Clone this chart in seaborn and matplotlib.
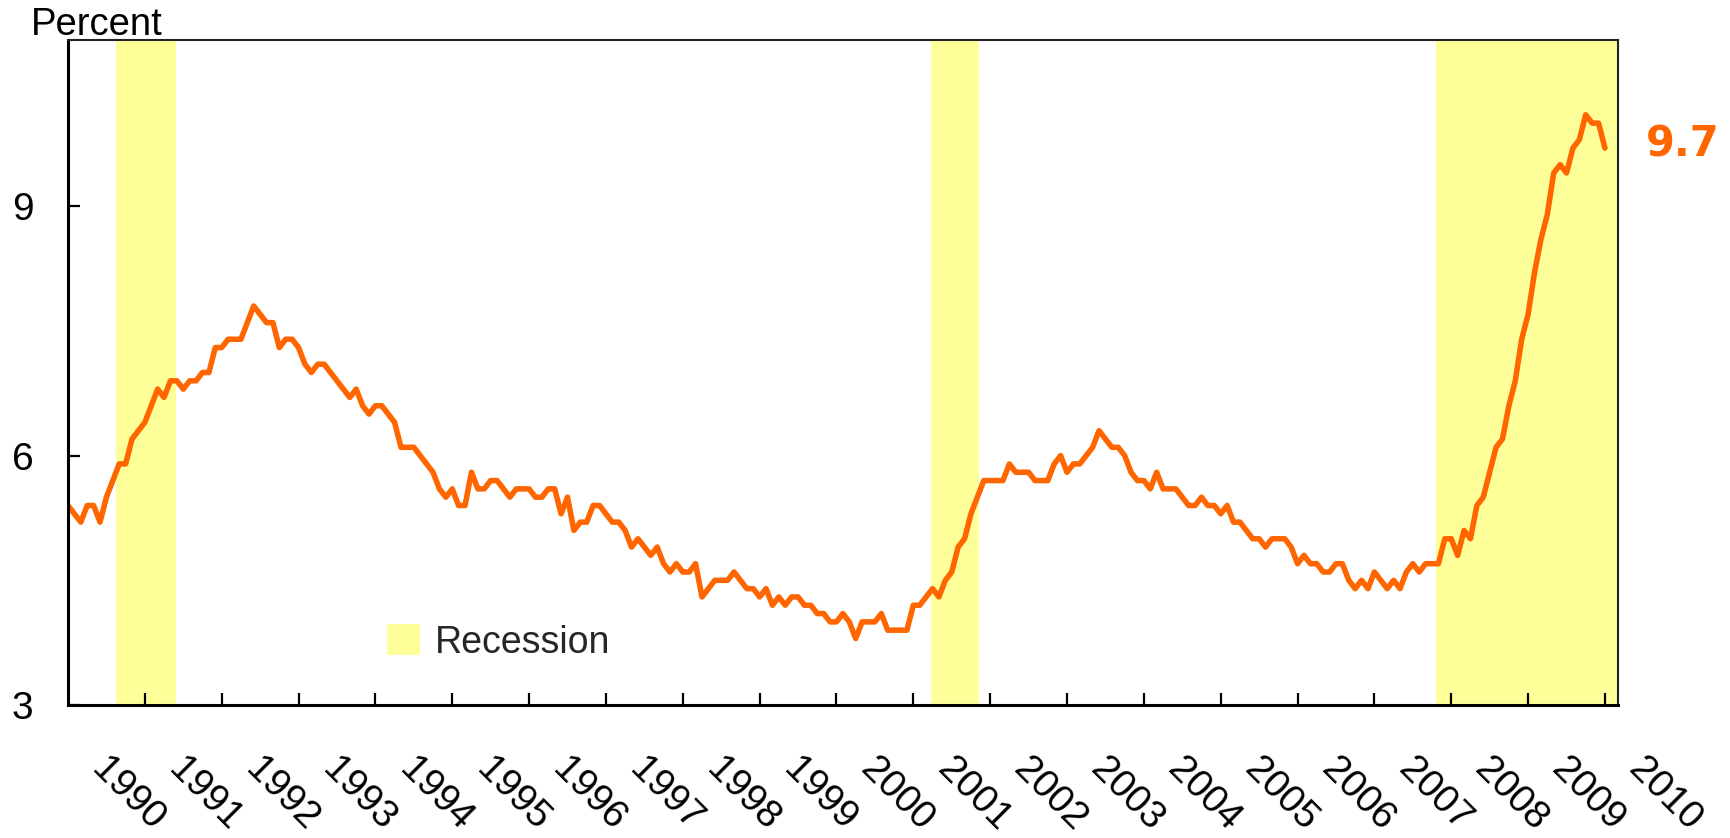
import numpy as np
import pandas as pd
import matplotlib
matplotlib.use("Agg")
import matplotlib.pyplot as plt
import matplotlib.transforms as mtransforms
from matplotlib.patches import Patch
import seaborn as sns

# ---- data: monthly unemployment rate (percent), Jan 1990 .. Jan 2010 ----
rate_1990 = [5.4, 5.3, 5.2, 5.4, 5.4, 5.2, 5.5, 5.7, 5.9, 5.9, 6.2, 6.3]
rate_1991 = [6.4, 6.6, 6.8, 6.7, 6.9, 6.9, 6.8, 6.9, 6.9, 7.0, 7.0, 7.3]
rate_1992 = [7.3, 7.4, 7.4, 7.4, 7.6, 7.8, 7.7, 7.6, 7.6, 7.3, 7.4, 7.4]
rate_1993 = [7.3, 7.1, 7.0, 7.1, 7.1, 7.0, 6.9, 6.8, 6.7, 6.8, 6.6, 6.5]
rate_1994 = [6.6, 6.6, 6.5, 6.4, 6.1, 6.1, 6.1, 6.0, 5.9, 5.8, 5.6, 5.5]
rate_1995 = [5.6, 5.4, 5.4, 5.8, 5.6, 5.6, 5.7, 5.7, 5.6, 5.5, 5.6, 5.6]
rate_1996 = [5.6, 5.5, 5.5, 5.6, 5.6, 5.3, 5.5, 5.1, 5.2, 5.2, 5.4, 5.4]
rate_1997 = [5.3, 5.2, 5.2, 5.1, 4.9, 5.0, 4.9, 4.8, 4.9, 4.7, 4.6, 4.7]
rate_1998 = [4.6, 4.6, 4.7, 4.3, 4.4, 4.5, 4.5, 4.5, 4.6, 4.5, 4.4, 4.4]
rate_1999 = [4.3, 4.4, 4.2, 4.3, 4.2, 4.3, 4.3, 4.2, 4.2, 4.1, 4.1, 4.0]
rate_2000 = [4.0, 4.1, 4.0, 3.8, 4.0, 4.0, 4.0, 4.1, 3.9, 3.9, 3.9, 3.9]
rate_2001 = [4.2, 4.2, 4.3, 4.4, 4.3, 4.5, 4.6, 4.9, 5.0, 5.3, 5.5, 5.7]
rate_2002 = [5.7, 5.7, 5.7, 5.9, 5.8, 5.8, 5.8, 5.7, 5.7, 5.7, 5.9, 6.0]
rate_2003 = [5.8, 5.9, 5.9, 6.0, 6.1, 6.3, 6.2, 6.1, 6.1, 6.0, 5.8, 5.7]
rate_2004 = [5.7, 5.6, 5.8, 5.6, 5.6, 5.6, 5.5, 5.4, 5.4, 5.5, 5.4, 5.4]
rate_2005 = [5.3, 5.4, 5.2, 5.2, 5.1, 5.0, 5.0, 4.9, 5.0, 5.0, 5.0, 4.9]
rate_2006 = [4.7, 4.8, 4.7, 4.7, 4.6, 4.6, 4.7, 4.7, 4.5, 4.4, 4.5, 4.4]
rate_2007 = [4.6, 4.5, 4.4, 4.5, 4.4, 4.6, 4.7, 4.6, 4.7, 4.7, 4.7, 5.0]
rate_2008 = [5.0, 4.8, 5.1, 5.0, 5.4, 5.5, 5.8, 6.1, 6.2, 6.6, 6.9, 7.4]
rate_2009 = [7.7, 8.2, 8.6, 8.9, 9.4, 9.5, 9.4, 9.7, 9.8, 10.1, 10.0, 10.0]
rate_2010 = [9.7]

start_year = 1990
year_labels = [str(y) for y in range(1990, 2011)]
year_ticks = list(range(1991, 2011))
y_ticks = [3, 6, 9]
recession_start = [1990.62, 2001.23, 2007.80]
recession_end = [1991.41, 2001.86, 2010.17]
last_value_label = "9.7"

rate = (rate_1990 + rate_1991 + rate_1992 + rate_1993 + rate_1994 + rate_1995 +
        rate_1996 + rate_1997 + rate_1998 + rate_1999 + rate_2000 + rate_2001 +
        rate_2002 + rate_2003 + rate_2004 + rate_2005 + rate_2006 + rate_2007 +
        rate_2008 + rate_2009 + rate_2010)
df = pd.DataFrame({"date": start_year + np.arange(len(rate)) / 12.0, "rate": rate})

ORANGE = "#FF6600"
YELLOW = "#FFFF99"

sns.set_style("white")
plt.rcParams["font.family"] = ["Liberation Sans", "DejaVu Sans"]

fig = plt.figure(figsize=(17.3, 8.38), dpi=100)
ax = fig.add_axes([68 / 1730, 1 - 705 / 838, 1550 / 1730, 665 / 838])

for s, e in zip(recession_start, recession_end):
    ax.axvspan(s, e, facecolor=YELLOW, edgecolor="none", lw=0, zorder=0)

sns.lineplot(data=df, x="date", y="rate", color=ORANGE, linewidth=4.0,
             ax=ax, zorder=3, legend=False)
for ln in ax.lines:
    ln.set_solid_capstyle("round")
    ln.set_solid_joinstyle("round")

ax.set_xlim(1990.0, 2010.17)
ax.set_ylim(3, 11)
ax.set_xlabel("")
ax.set_ylabel("")

# x ticks (year boundaries) without labels
ax.set_xticks(year_ticks)
ax.set_xticklabels([])
ax.tick_params(axis="x", bottom=True, top=False, direction="in", length=8.6,
               width=1.6, color="black")

# rotated year labels
trans = mtransforms.blended_transform_factory(ax.transData, ax.transAxes)
for lab in year_labels:
    ax.text(int(lab) + 0.78, -0.1353, lab, transform=trans, rotation=-45,
            ha="center", va="center", fontsize=28, color="black", clip_on=False)

ax.set_yticks(y_ticks)
ax.set_yticklabels([str(v) for v in y_ticks])
ax.tick_params(axis="y", left=True, right=False, direction="in", length=8.6,
               width=1.6, color="black", pad=25, labelsize=28, labelcolor="black")

for side in ["left", "bottom"]:
    ax.spines[side].set_color("black")
    ax.spines[side].set_linewidth(2.2)
for side in ["top", "right"]:
    ax.spines[side].set_color("#222222")
    ax.spines[side].set_linewidth(1.5)
for sp in ax.spines.values():
    sp.set_zorder(5)

ax.text(-0.0239, 1.0075, "Percent", transform=ax.transAxes, fontsize=27.5,
        ha="left", va="baseline", color="black")

ax.annotate(last_value_label, xy=(df["date"].iloc[-1], df["rate"].iloc[-1]),
            xytext=(29.5, 2.7), textcoords="offset points", ha="left", va="center",
            color=ORANGE, fontsize=30, fontweight="bold", family="DejaVu Sans",
            annotation_clip=False)

handles = [Patch(facecolor=YELLOW, edgecolor="none", label="Recession")]
ax.legend(handles=handles, loc="center left", bbox_to_anchor=(0.2058, 0.094),
          frameon=False, fontsize=27, handlelength=0.87, handleheight=0.87,
          handletextpad=0.4, borderpad=0, borderaxespad=0)

fig.savefig("out.png", dpi=100)
